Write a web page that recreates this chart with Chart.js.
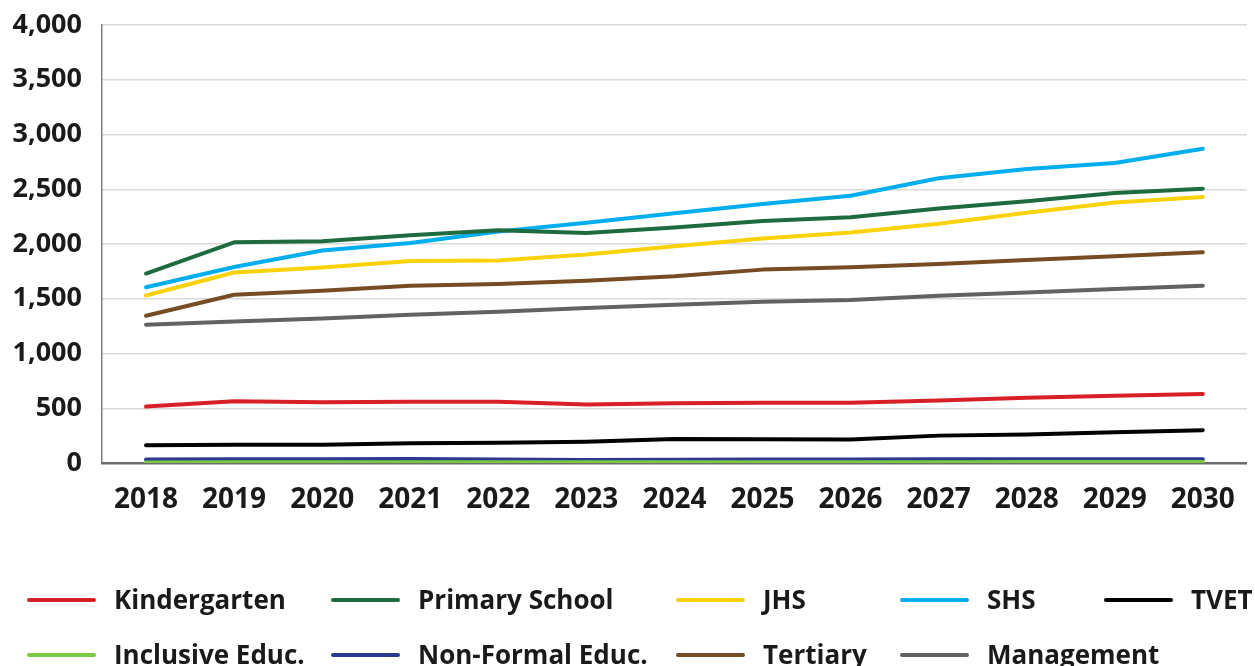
<!DOCTYPE html>
<html>
<head>
<meta charset="utf-8">
<script src="https://cdn.jsdelivr.net/npm/chart.js@4"></script>
<style>
  html, body { margin: 0; padding: 0; background: #fff; }
  #wrap { position: relative; width: 1255px; height: 666px; }
</style>
</head>
<body>
<div id="wrap"><canvas id="enrol"></canvas></div>
<script>
var years = ['2018','2019','2020','2021','2022','2023','2024','2025','2026','2027','2028','2029','2030'];

var kindergarten = [515, 565, 555, 560, 560, 535, 545, 550, 550, 570, 595, 615, 630];
var primarySchool = [1730, 2015, 2025, 2080, 2125, 2100, 2150, 2210, 2245, 2325, 2390, 2465, 2505];
var jhs = [1530, 1740, 1785, 1845, 1850, 1905, 1980, 2050, 2105, 2185, 2285, 2380, 2430];
var shs = [1605, 1790, 1940, 2010, 2115, 2195, 2280, 2365, 2440, 2600, 2685, 2740, 2870];
var tvet = [162, 167, 167, 180, 186, 195, 220, 218, 215, 250, 260, 280, 300];
var inclusiveEduc = [5, 6, 6, 7, 7, 6, 6, 7, 7, 7, 8, 8, 8];
var nonFormalEduc = [33, 35, 35, 36, 32, 28, 30, 32, 33, 34, 34, 35, 35];
var tertiary = [1345, 1537, 1574, 1619, 1635, 1665, 1705, 1766, 1787, 1818, 1855, 1888, 1924];
var management = [1263, 1293, 1320, 1354, 1382, 1415, 1446, 1473, 1488, 1528, 1558, 1589, 1619];

var seriesNames = ['Kindergarten', 'Primary School', 'JHS', 'SHS', 'TVET',
                   'Inclusive Educ.', 'Non-Formal Educ.', 'Tertiary', 'Management'];
var seriesValues = [kindergarten, primarySchool, jhs, shs, tvet,
                    inclusiveEduc, nonFormalEduc, tertiary, management];
var colours = ['#d71f27', '#1f6b40', '#f9d20c', '#00aeef', '#000000',
               '#7ac943', '#2b3990', '#754c24', '#626262'];

var fontFamily = '"Open Sans", "DejaVu Sans", sans-serif';

var datasets = [];
for (var i = 0; i < seriesNames.length; i++) {
    datasets.push({
        label: seriesNames[i],
        data: seriesValues[i],
        borderColor: colours[i],
        backgroundColor: colours[i],
        borderWidth: 4,
        pointRadius: 0,
        tension: 0,
        fill: false,
        borderCapStyle: 'round',
        borderJoinStyle: 'round'
    });
}

// legend drawn by hand: items sit in fixed columns, two rows
var legendCols = [29, 333, 678, 902, 1106];
var legendRows = [600, 655];
var bottomLegend = {
    id: 'bottomLegend',
    afterDraw: function (chart) {
        var ctx = chart.ctx;
        ctx.save();
        ctx.font = 'bold 26px ' + fontFamily;
        ctx.textBaseline = 'middle';
        ctx.textAlign = 'left';
        chart.data.datasets.forEach(function (ds, idx) {
            var row = idx < 5 ? 0 : 1;
            var col = idx < 5 ? idx : idx - 5;
            var x = legendCols[col];
            var y = legendRows[row];
            ctx.strokeStyle = ds.borderColor;
            ctx.lineWidth = 4;
            ctx.lineCap = 'round';
            ctx.beginPath();
            ctx.moveTo(x, y);
            ctx.lineTo(x + 65, y);
            ctx.stroke();
            ctx.fillStyle = '#1a1a1a';
            ctx.fillText(ds.label, x + 85, y + 2);
        });
        ctx.restore();
    }
};

new Chart(document.getElementById('enrol'), {
    type: 'line',
    data: { labels: years, datasets: datasets },
    options: {
        responsive: true,
        maintainAspectRatio: false,
        animation: false,
        layout: { padding: { top: 0, right: 4, bottom: 136, left: 0 } },
        plugins: {
            legend: { display: false },
            tooltip: { enabled: false }
        },
        scales: {
            x: {
                offset: true,
                grid: { display: false, drawTicks: false },
                border: { color: '#6d6d6d', width: 2.5 },
                ticks: {
                    color: '#1a1a1a',
                    padding: 20,
                    font: { family: fontFamily, size: 28, weight: 'bold' }
                },
                afterFit: function (s) { s.height = 67; }
            },
            y: {
                min: 0,
                max: 4000,
                grid: { color: '#d9d9d9', lineWidth: 1.5, drawTicks: false },
                border: { color: '#808080', width: 1.5 },
                ticks: {
                    stepSize: 500,
                    color: '#1a1a1a',
                    padding: 20,
                    font: { family: fontFamily, size: 27, weight: 'bold' },
                    callback: function (v) { return v.toLocaleString('en-US'); }
                },
                afterFit: function (s) { s.width = 102; s.paddingTop = 25; }
            }
        }
    },
    plugins: [bottomLegend]
});
</script>
</body>
</html>
